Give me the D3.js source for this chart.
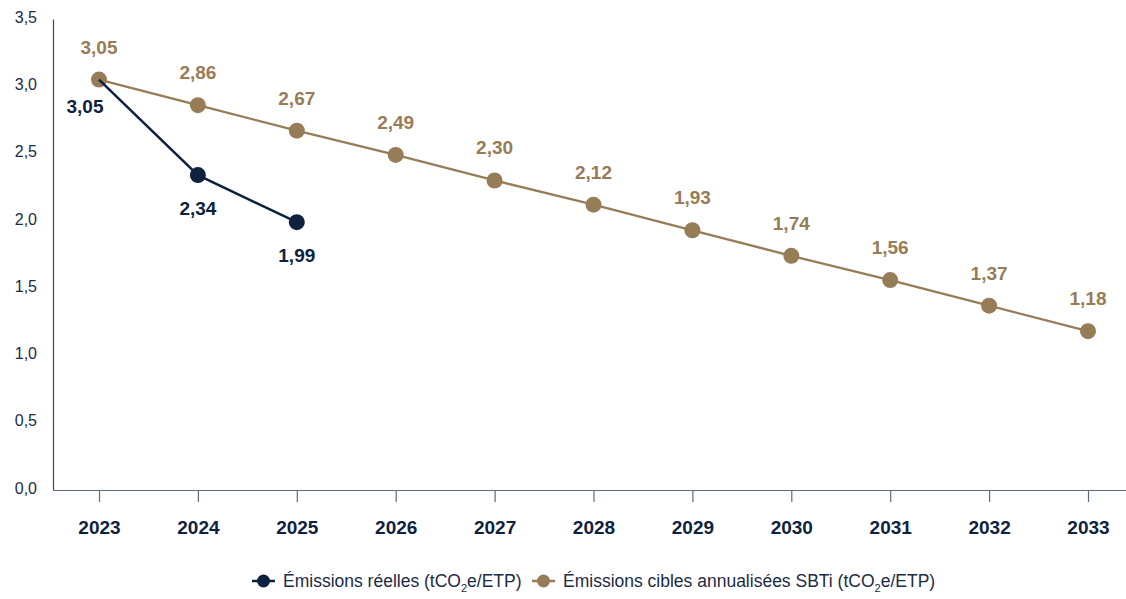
<!DOCTYPE html>
<html>
<head>
<meta charset="utf-8">
<script src="https://cdn.jsdelivr.net/npm/d3@7"></script>
<style>
  body { margin: 0; background: #fff; }
  svg text { font-family: "Liberation Sans", Arial, sans-serif; }
</style>
</head>
<body>
<div id="chart"></div>
<script>
// chart data
var years = ['2023', '2024', '2025', '2026', '2027', '2028', '2029', '2030', '2031', '2032', '2033'];
var reelles = [3.05, 2.34, 1.99];
var cibles = [3.05, 2.86, 2.67, 2.49, 2.30, 2.12, 1.93, 1.74, 1.56, 1.37, 1.18];
var yTicks = [0, 0.5, 1, 1.5, 2, 2.5, 3, 3.5];

var navy = '#0e2240';
var gold = '#977c58';

var width = 1126, height = 599;
var svg = d3.select('#chart').append('svg')
  .attr('width', width)
  .attr('height', height);

var x = d3.scalePoint()
  .domain(years)
  .range([99, 1088]);
var y = d3.scaleLinear()
  .domain([0, 3.5])
  .range([490, 19]);

var fmt = function(v, n) { return v.toFixed(n).replace('.', ','); };

// y axis
var yAxis = svg.append('g')
  .attr('transform', 'translate(53,0)')
  .call(d3.axisLeft(y).tickValues(yTicks).tickSize(0).tickPadding(16).tickFormat(function(d) { return fmt(d, 1); }));
yAxis.select('.domain').attr('stroke', '#3a4a63').attr('stroke-width', 1.2);
yAxis.selectAll('text').attr('font-size', 16).attr('fill', '#1c2b45').attr('dy', '0.2em');

// x axis
var xAxis = svg.append('g')
  .attr('transform', 'translate(0,490)')
  .call(d3.axisBottom(x).tickSize(12).tickPadding(19).tickSizeOuter(0));
xAxis.select('.domain').attr('d', 'M53,0.5H' + width).attr('stroke', '#5a6b82').attr('stroke-width', 1.2);
xAxis.selectAll('.tick line').attr('stroke', '#5a6b82').attr('stroke-width', 1.2);
xAxis.selectAll('text').attr('font-size', 19).attr('font-weight', 'bold').attr('fill', navy);

var line = d3.line()
  .x(function(d, i) { return x(years[i]); })
  .y(function(d) { return y(d); });

// cible series
svg.append('path').datum(cibles)
  .attr('fill', 'none').attr('stroke', gold).attr('stroke-width', 2.3)
  .attr('d', line);
svg.append('g').selectAll('circle').data(cibles).enter().append('circle')
  .attr('cx', function(d, i) { return x(years[i]); })
  .attr('cy', function(d) { return y(d); })
  .attr('r', 8).attr('fill', gold);
svg.append('g').selectAll('text').data(cibles).enter().append('text')
  .attr('x', function(d, i) { return x(years[i]); })
  .attr('y', function(d) { return y(d) - 26; })
  .attr('text-anchor', 'middle')
  .attr('font-size', 19).attr('font-weight', 'bold').attr('fill', gold)
  .text(function(d) { return fmt(d, 2); });

// reelles series
svg.append('path').datum(reelles)
  .attr('fill', 'none').attr('stroke', navy).attr('stroke-width', 2.5)
  .attr('d', line);
svg.append('g').selectAll('circle').data(reelles).enter().append('circle')
  .attr('cx', function(d, i) { return x(years[i]); })
  .attr('cy', function(d) { return y(d); })
  .attr('r', 8).attr('fill', navy)
  .filter(function(d, i) { return i === 0; }).remove();
svg.append('g').selectAll('text').data(reelles).enter().append('text')
  .attr('x', function(d, i) { return x(years[i]) - (i === 0 ? 14 : 0); })
  .attr('y', function(d, i) { return y(d) + (i === 0 ? 33 : 40); })
  .attr('text-anchor', 'middle')
  .attr('font-size', 19).attr('font-weight', 'bold').attr('fill', navy)
  .text(function(d) { return fmt(d, 2); });

// legend
var legendItems = [
  { color: navy, label: 'Émissions réelles (tCO', x: 252 },
  { color: gold, label: 'Émissions cibles annualisées SBTi (tCO', x: 532 }
];
var lg = svg.append('g').selectAll('g').data(legendItems).enter().append('g')
  .attr('transform', function(d) { return 'translate(' + d.x + ',581)'; });
lg.append('line').attr('x1', 0).attr('x2', 23).attr('stroke', function(d) { return d.color; }).attr('stroke-width', 2.5);
lg.append('circle').attr('cx', 11.5).attr('r', 6.5).attr('fill', function(d) { return d.color; });
var lt = lg.append('text').attr('x', 31).attr('y', 6)
  .attr('font-size', 17.5).attr('fill', '#1c2b45');
lt.append('tspan').text(function(d) { return d.label; });
lt.append('tspan').attr('dy', 5).attr('font-size', 11).text('2');
lt.append('tspan').attr('dy', -5).text('e/ETP)');
</script>
</body>
</html>
